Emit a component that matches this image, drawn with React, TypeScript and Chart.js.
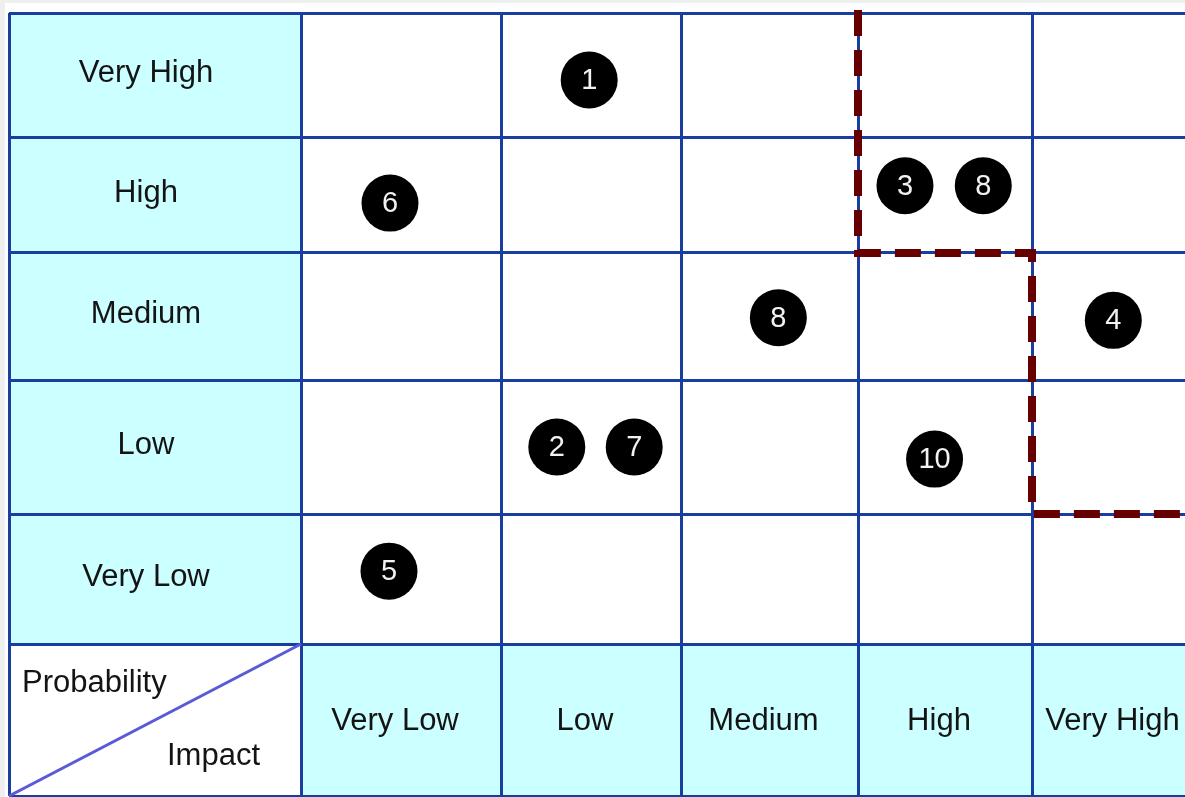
import React, { useEffect, useRef } from 'react';
import { Chart, registerables, LinearScale } from 'chart.js';

// ---------- data ----------
const probabilityLabels = ['Very High', 'High', 'Medium', 'Low', 'Very Low'];
const impactLabels = ['Very Low', 'Low', 'Medium', 'High', 'Very High'];
const cornerProbability = 'Probability';
const cornerImpact = 'Impact';

// risk markers: x = impact (column units, header column = 0..1), y = probability (row units, top row = 0..1)
const riskIds = ['1', '6', '3', '8', '8', '4', '2', '7', '10', '5'];
const riskImpact = [2.49, 1.445, 4.27, 4.72, 3.55, 5.47, 2.31, 2.74, 4.44, 1.44];
const riskProbability = [0.54, 1.57, 1.42, 1.42, 2.51, 2.53, 3.5, 3.5, 3.59, 4.44];

// risk-appetite threshold (stepped dashed boundary)
const thresholdX = [4, 4, 5, 5, 6];
const thresholdY = [-0.025, 2, 2, 4, 4];

// ---------- layout ----------
const CANVAS_W = 1185;
const CANVAS_H = 797;
const PAD_LEFT = 9;
const PAD_TOP = 13;
const COL_WIDTHS = [292, 200, 180, 177, 174, 173];
const ROW_HEIGHTS = [124, 116, 127, 134, 130, 152];

const GRID_COLOR = '#1a3e9f';
const HEADER_FILL = '#ccffff';
const TEXT_COLOR = '#141414';
const FONT = '"Liberation Sans", Arial, sans-serif';

function cum(w: number[], v: number): number {
  if (v <= 0) return v * w[0];
  let acc = 0;
  for (let i = 0; i < w.length; i++) {
    if (v <= i + 1) return acc + (v - i) * w[i];
    acc += w[i];
  }
  return acc + (v - w.length) * w[w.length - 1];
}
function invCum(w: number[], a: number): number {
  if (a <= 0) return a / w[0];
  let acc = 0;
  for (let i = 0; i < w.length; i++) {
    if (a <= acc + w[i]) return i + (a - acc) / w[i];
    acc += w[i];
  }
  return w.length + (a - acc) / w[w.length - 1];
}

class PiecewiseScale extends LinearScale {
  static id = 'piecewise';
  weightsFor(): number[] {
    return (this as any).axis === 'x' ? COL_WIDTHS : ROW_HEIGHTS;
  }
  getPixelForValue(value: any): number {
    if (value === null || value === undefined || isNaN(value)) return NaN;
    const w = this.weightsFor();
    const a0 = cum(w, this.min);
    const a1 = cum(w, this.max);
    return this.getPixelForDecimal((cum(w, value) - a0) / (a1 - a0));
  }
  getValueForPixel(pixel: number): number {
    const w = this.weightsFor();
    const a0 = cum(w, this.min);
    const a1 = cum(w, this.max);
    return invCum(w, a0 + this.getDecimalForPixel(pixel) * (a1 - a0));
  }
}

Chart.register(...registerables);
Chart.register(PiecewiseScale as any);

const X_MAX = invCum(COL_WIDTHS, CANVAS_W - PAD_LEFT);
const Y_MAX = ROW_HEIGHTS.length;

const matrixPlugin = {
  id: 'matrix',
  beforeDraw(chart: any) {
    const { ctx } = chart;
    const xs = chart.scales.x;
    const ys = chart.scales.y;
    ctx.save();
    ctx.fillStyle = '#efefef';
    ctx.fillRect(0, 0, chart.width, chart.height);
    ctx.fillStyle = '#ffffff';
    ctx.fillRect(5, 3, chart.width - 5, chart.height - 3);
    ctx.fillStyle = HEADER_FILL;
    // probability header column
    probabilityLabels.forEach((_, r) => {
      const x0 = xs.getPixelForValue(0), x1 = xs.getPixelForValue(1);
      const y0 = ys.getPixelForValue(r), y1 = ys.getPixelForValue(r + 1);
      ctx.fillRect(x0, y0, x1 - x0, y1 - y0);
    });
    // impact header row
    impactLabels.forEach((_, c) => {
      const x0 = xs.getPixelForValue(c + 1), x1 = xs.getPixelForValue(c + 2);
      const y0 = ys.getPixelForValue(5), y1 = ys.getPixelForValue(6);
      ctx.fillRect(x0, y0, x1 - x0, y1 - y0);
    });
    ctx.restore();
  },
  afterDatasetsDraw(chart: any) {
    const { ctx } = chart;
    const meta = chart.getDatasetMeta(2);
    ctx.save();
    ctx.fillStyle = '#f2f2f2';
    ctx.font = `29px ${FONT}`;
    ctx.textAlign = 'center';
    ctx.textBaseline = 'middle';
    meta.data.forEach((pt: any, i: number) => {
      ctx.fillText(riskIds[i], pt.x, pt.y + 1);
    });
    ctx.restore();
  },
  afterDraw(chart: any) {
    const { ctx } = chart;
    const xs = chart.scales.x;
    const ys = chart.scales.y;
    ctx.save();
    ctx.fillStyle = TEXT_COLOR;
    ctx.font = `31px ${FONT}`;
    ctx.textAlign = 'center';
    ctx.textBaseline = 'middle';
    probabilityLabels.forEach((lab, r) => {
      ctx.fillText(lab, xs.getPixelForValue(0.5) - 9, ys.getPixelForValue(r + 0.5) - 2);
    });
    impactLabels.forEach((lab, c) => {
      ctx.fillText(lab, xs.getPixelForValue(c + 1.5) - 6, ys.getPixelForValue(5.5) + 1);
    });
    ctx.textBaseline = 'alphabetic';
    ctx.textAlign = 'left';
    ctx.fillText(cornerProbability, xs.getPixelForValue(0) + 13, ys.getPixelForValue(5) + 48);
    ctx.textAlign = 'right';
    ctx.fillText(cornerImpact, xs.getPixelForValue(1) - 41, ys.getPixelForValue(6) - 31);
    ctx.restore();
  },
};

export default function App() {
  const ref = useRef<HTMLCanvasElement | null>(null);
  useEffect(() => {
    document.body.style.margin = '0';
    document.body.style.overflow = 'hidden';
    const canvas = ref.current!;
    const chart = new Chart(canvas, {
      type: 'scatter',
      data: {
        datasets: [
          {
            type: 'line',
            data: thresholdX.map((x, i) => ({ x, y: thresholdY[i] })),
            borderColor: '#660000',
            borderWidth: 8,
            borderDash: [26, 14],
            borderCapStyle: 'butt',
            borderJoinStyle: 'miter',
            pointRadius: 0,
            fill: false,
            tension: 0,
            clip: false,
          } as any,
          {
            type: 'line',
            data: [
              { x: 0, y: 6 },
              { x: 1, y: 5 },
            ],
            borderColor: '#5a5ad8',
            borderWidth: 3,
            pointRadius: 0,
            fill: false,
            clip: false,
          } as any,
          {
            type: 'scatter',
            data: riskImpact.map((x, i) => ({ x, y: riskProbability[i] })),
            backgroundColor: '#000000',
            borderColor: '#000000',
            borderWidth: 0,
            pointRadius: 28.5,
            pointHoverRadius: 28.5,
          } as any,
        ],
      },
      options: {
        animation: false,
        responsive: false,
        events: [],
        layout: { autoPadding: false, padding: { left: PAD_LEFT, top: PAD_TOP, right: 0, bottom: 1 } },
        plugins: { legend: { display: false }, tooltip: { enabled: false } },
        scales: {
          x: {
            type: 'piecewise' as any,
            position: 'bottom',
            min: 0,
            max: X_MAX,
            bounds: 'data',
            afterBuildTicks: (s: any) => {
              s.ticks = [0, 1, 2, 3, 4, 5].map((v) => ({ value: v }));
            },
            grid: { color: GRID_COLOR, lineWidth: 3, drawTicks: false },
            border: { display: false },
            ticks: { display: false },
          },
          y: {
            type: 'piecewise' as any,
            position: 'left',
            reverse: true,
            min: 0,
            max: Y_MAX,
            bounds: 'data',
            afterBuildTicks: (s: any) => {
              s.ticks = [0, 1, 2, 3, 4, 5, 6].map((v) => ({ value: v }));
            },
            grid: { color: GRID_COLOR, lineWidth: 3, drawTicks: false },
            border: { display: false },
            ticks: { display: false },
          },
        } as any,
      },
      plugins: [matrixPlugin],
    });
    return () => chart.destroy();
  }, []);
  return (
    <canvas
      ref={ref}
      width={CANVAS_W}
      height={CANVAS_H}
      style={{ display: 'block', width: CANVAS_W, height: CANVAS_H }}
    />
  );
}
